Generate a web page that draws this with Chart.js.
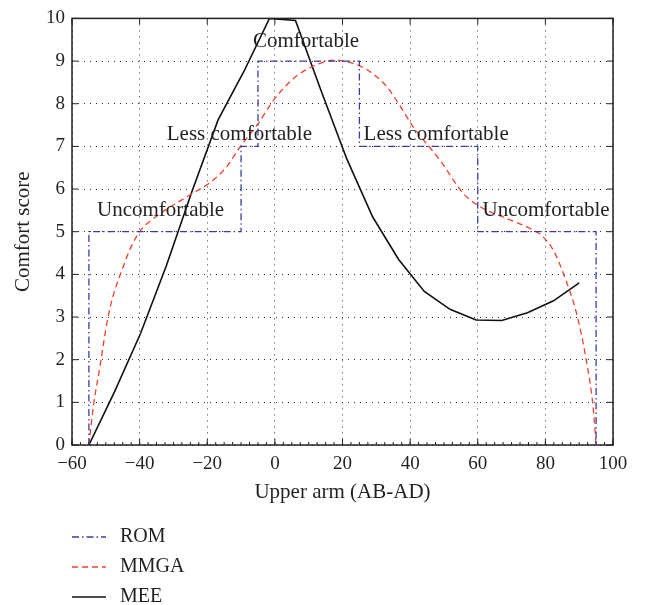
<!DOCTYPE html>
<html>
<head>
<meta charset="utf-8">
<script src="https://cdn.jsdelivr.net/npm/chart.js@4.4.0/dist/chart.umd.min.js"></script>
<style>
    html, body { margin: 0; padding: 0; background: #fff; }
</style>
</head>
<body>
<canvas id="report" width="645" height="605"></canvas>
<script>
// ROM: step limits of each comfort zone
const romX = [-55, -55, -10, -10, -5, -5, 25, 25, 60, 60, 95, 95];
const romY = [0, 5, 5, 7, 7, 9, 9, 7, 7, 5, 5, 0];

// MMGA curve
const mmgaX = [-55, -53.6, -51.6, -49.7, -48, -45, -42.5, -39.8, -34, -26, -18.2, -14, -10.3, -4.9, -0.4, 5.5, 11.9, 17.8, 24.7, 29, 33.1, 37, 40.9, 48.8, 55.7, 60.6, 68.5, 75.4, 79, 82.3, 85.7, 89.2, 92.1, 94.1, 95];
const mmgaY = [0, 0.95, 1.9, 2.85, 3.45, 4.15, 4.65, 5.02, 5.42, 5.82, 6.21, 6.55, 6.99, 7.54, 8.08, 8.59, 8.9, 9.02, 8.9, 8.7, 8.4, 7.95, 7.46, 6.68, 5.9, 5.59, 5.31, 5.08, 4.9, 4.57, 3.94, 3.09, 1.99, 0.9, 0];

// MEE polyline
const meeX = [-55, -47.4, -39.7, -32.1, -24.5, -16.8, -9.2, -1.6, 6.1, 13.7, 21.3, 28.9, 36.6, 44.2, 51.8, 59.5, 67.1, 74.7, 82.4, 90];
const meeY = [0, 1.25, 2.62, 4.2, 5.95, 7.62, 8.75, 10, 9.95, 8.3, 6.7, 5.35, 4.35, 3.6, 3.18, 2.93, 2.92, 3.1, 3.38, 3.8];

const zoneLabels = ["Comfortable", "Less comfortable", "Less comfortable", "Uncomfortable", "Uncomfortable"];
const zoneLabelX = [9.2, -10.5, 47.7, -33.8, 80.2];
const zoneLabelY = [9.45, 7.27, 7.27, 5.5, 5.5];

const serif = "'Liberation Serif', 'DejaVu Serif', serif";
const textColor = "#231f20";

function toPoints(xs, ys) {
    return xs.map((x, i) => ({ x: x, y: ys[i] }));
}

function fmt(v) {
    return v < 0 ? "\u2212" + Math.abs(v) : String(v);
}

const framePlugin = {
    id: "frame",
    afterDatasetsDraw(chart) {
        const ctx = chart.ctx;
        const a = chart.chartArea;
        const xs = chart.scales.x;
        const ys = chart.scales.y;
        ctx.save();

        // zone labels
        ctx.font = "21px " + serif;
        ctx.fillStyle = textColor;
        ctx.textAlign = "center";
        ctx.textBaseline = "middle";
        zoneLabels.forEach((t, i) => {
            ctx.fillText(t, xs.getPixelForValue(zoneLabelX[i]), ys.getPixelForValue(zoneLabelY[i]));
        });

        // box + inward ticks
        ctx.strokeStyle = "#231f20";
        ctx.lineWidth = 1.5;
        ctx.strokeRect(a.left, a.top, a.right - a.left, a.bottom - a.top);
        ctx.lineWidth = 1;
        ctx.beginPath();
        for (let v = -60; v <= 100; v += 20) {
            const px = xs.getPixelForValue(v);
            ctx.moveTo(px, a.bottom); ctx.lineTo(px, a.bottom - 6);
            ctx.moveTo(px, a.top); ctx.lineTo(px, a.top + 6);
        }
        for (let v = -60; v <= 100; v += 2.5) {
            const px = xs.getPixelForValue(v);
            ctx.moveTo(px, a.bottom); ctx.lineTo(px, a.bottom - 3);
        }
        for (let v = 0; v <= 10; v += 1) {
            const py = ys.getPixelForValue(v);
            ctx.moveTo(a.left, py); ctx.lineTo(a.left + 6, py);
            ctx.moveTo(a.right, py); ctx.lineTo(a.right - 6, py);
        }
        ctx.stroke();

        // legend, stacked at the bottom left
        ctx.font = "20px " + serif;
        ctx.textAlign = "left";
        chart.data.datasets.forEach((ds, i) => {
            const y = 537 + i * 30;
            ctx.strokeStyle = ds.borderColor;
            ctx.lineWidth = ds.borderWidth;
            ctx.setLineDash(ds.borderDash || []);
            ctx.beginPath();
            ctx.moveTo(72, y);
            ctx.lineTo(106, y);
            ctx.stroke();
            ctx.setLineDash([]);
            ctx.fillStyle = textColor;
            ctx.fillText(ds.label, 120, y);
        });
        ctx.restore();
    }
};

document.addEventListener("DOMContentLoaded", function() {

    const ctx = document.getElementById("report").getContext("2d");
    let myChart = new Chart(ctx, {
        type: "line",
        data: {
            datasets: [{
                label: "ROM",
                data: toPoints(romX, romY),
                borderColor: "#3c3c9c",
                borderWidth: 1.3,
                borderDash: [7, 3, 1.5, 3],
                pointRadius: 0,
                tension: 0
            }, {
                label: "MMGA",
                data: toPoints(mmgaX, mmgaY),
                borderColor: "#f2402c",
                borderWidth: 1.3,
                borderDash: [6, 4],
                pointRadius: 0,
                cubicInterpolationMode: "monotone"
            }, {
                label: "MEE",
                data: toPoints(meeX, meeY),
                borderColor: "#111111",
                borderWidth: 1.6,
                pointRadius: 0,
                tension: 0
            }]
        },
        options: {
            responsive: false,
            animation: false,
            devicePixelRatio: 1,
            layout: { padding: { top: 18, right: 32, bottom: 100, left: 0 } },
            plugins: {
                legend: { display: false },
                tooltip: { enabled: false }
            },
            scales: {
                x: {
                    type: "linear",
                    min: -60,
                    max: 100,
                    afterFit: s => { s.height = 60; },
                    ticks: {
                        stepSize: 20,
                        padding: 8,
                        maxRotation: 0,
                        color: textColor,
                        font: { family: serif, size: 19 },
                        callback: v => fmt(v)
                    },
                    grid: { color: "#333", lineWidth: 1, drawTicks: false },
                    border: { display: false, dash: [1, 5] },
                    title: {
                        display: true,
                        text: "Upper arm (AB-AD)",
                        color: textColor,
                        font: { family: serif, size: 21 },
                        padding: { top: 0, bottom: 0 }
                    }
                },
                y: {
                    min: 0,
                    max: 10,
                    afterFit: s => { s.width = 72; },
                    ticks: {
                        stepSize: 1,
                        padding: 7,
                        color: textColor,
                        font: { family: serif, size: 19 }
                    },
                    grid: { color: "#333", lineWidth: 1, drawTicks: false },
                    border: { display: false, dash: [1, 5] },
                    title: {
                        display: true,
                        text: "Comfort score",
                        color: textColor,
                        font: { family: serif, size: 21 },
                        padding: { top: 11, bottom: 0 }
                    }
                }
            }
        },
        plugins: [framePlugin]
    });
});
</script>
</body>
</html>
